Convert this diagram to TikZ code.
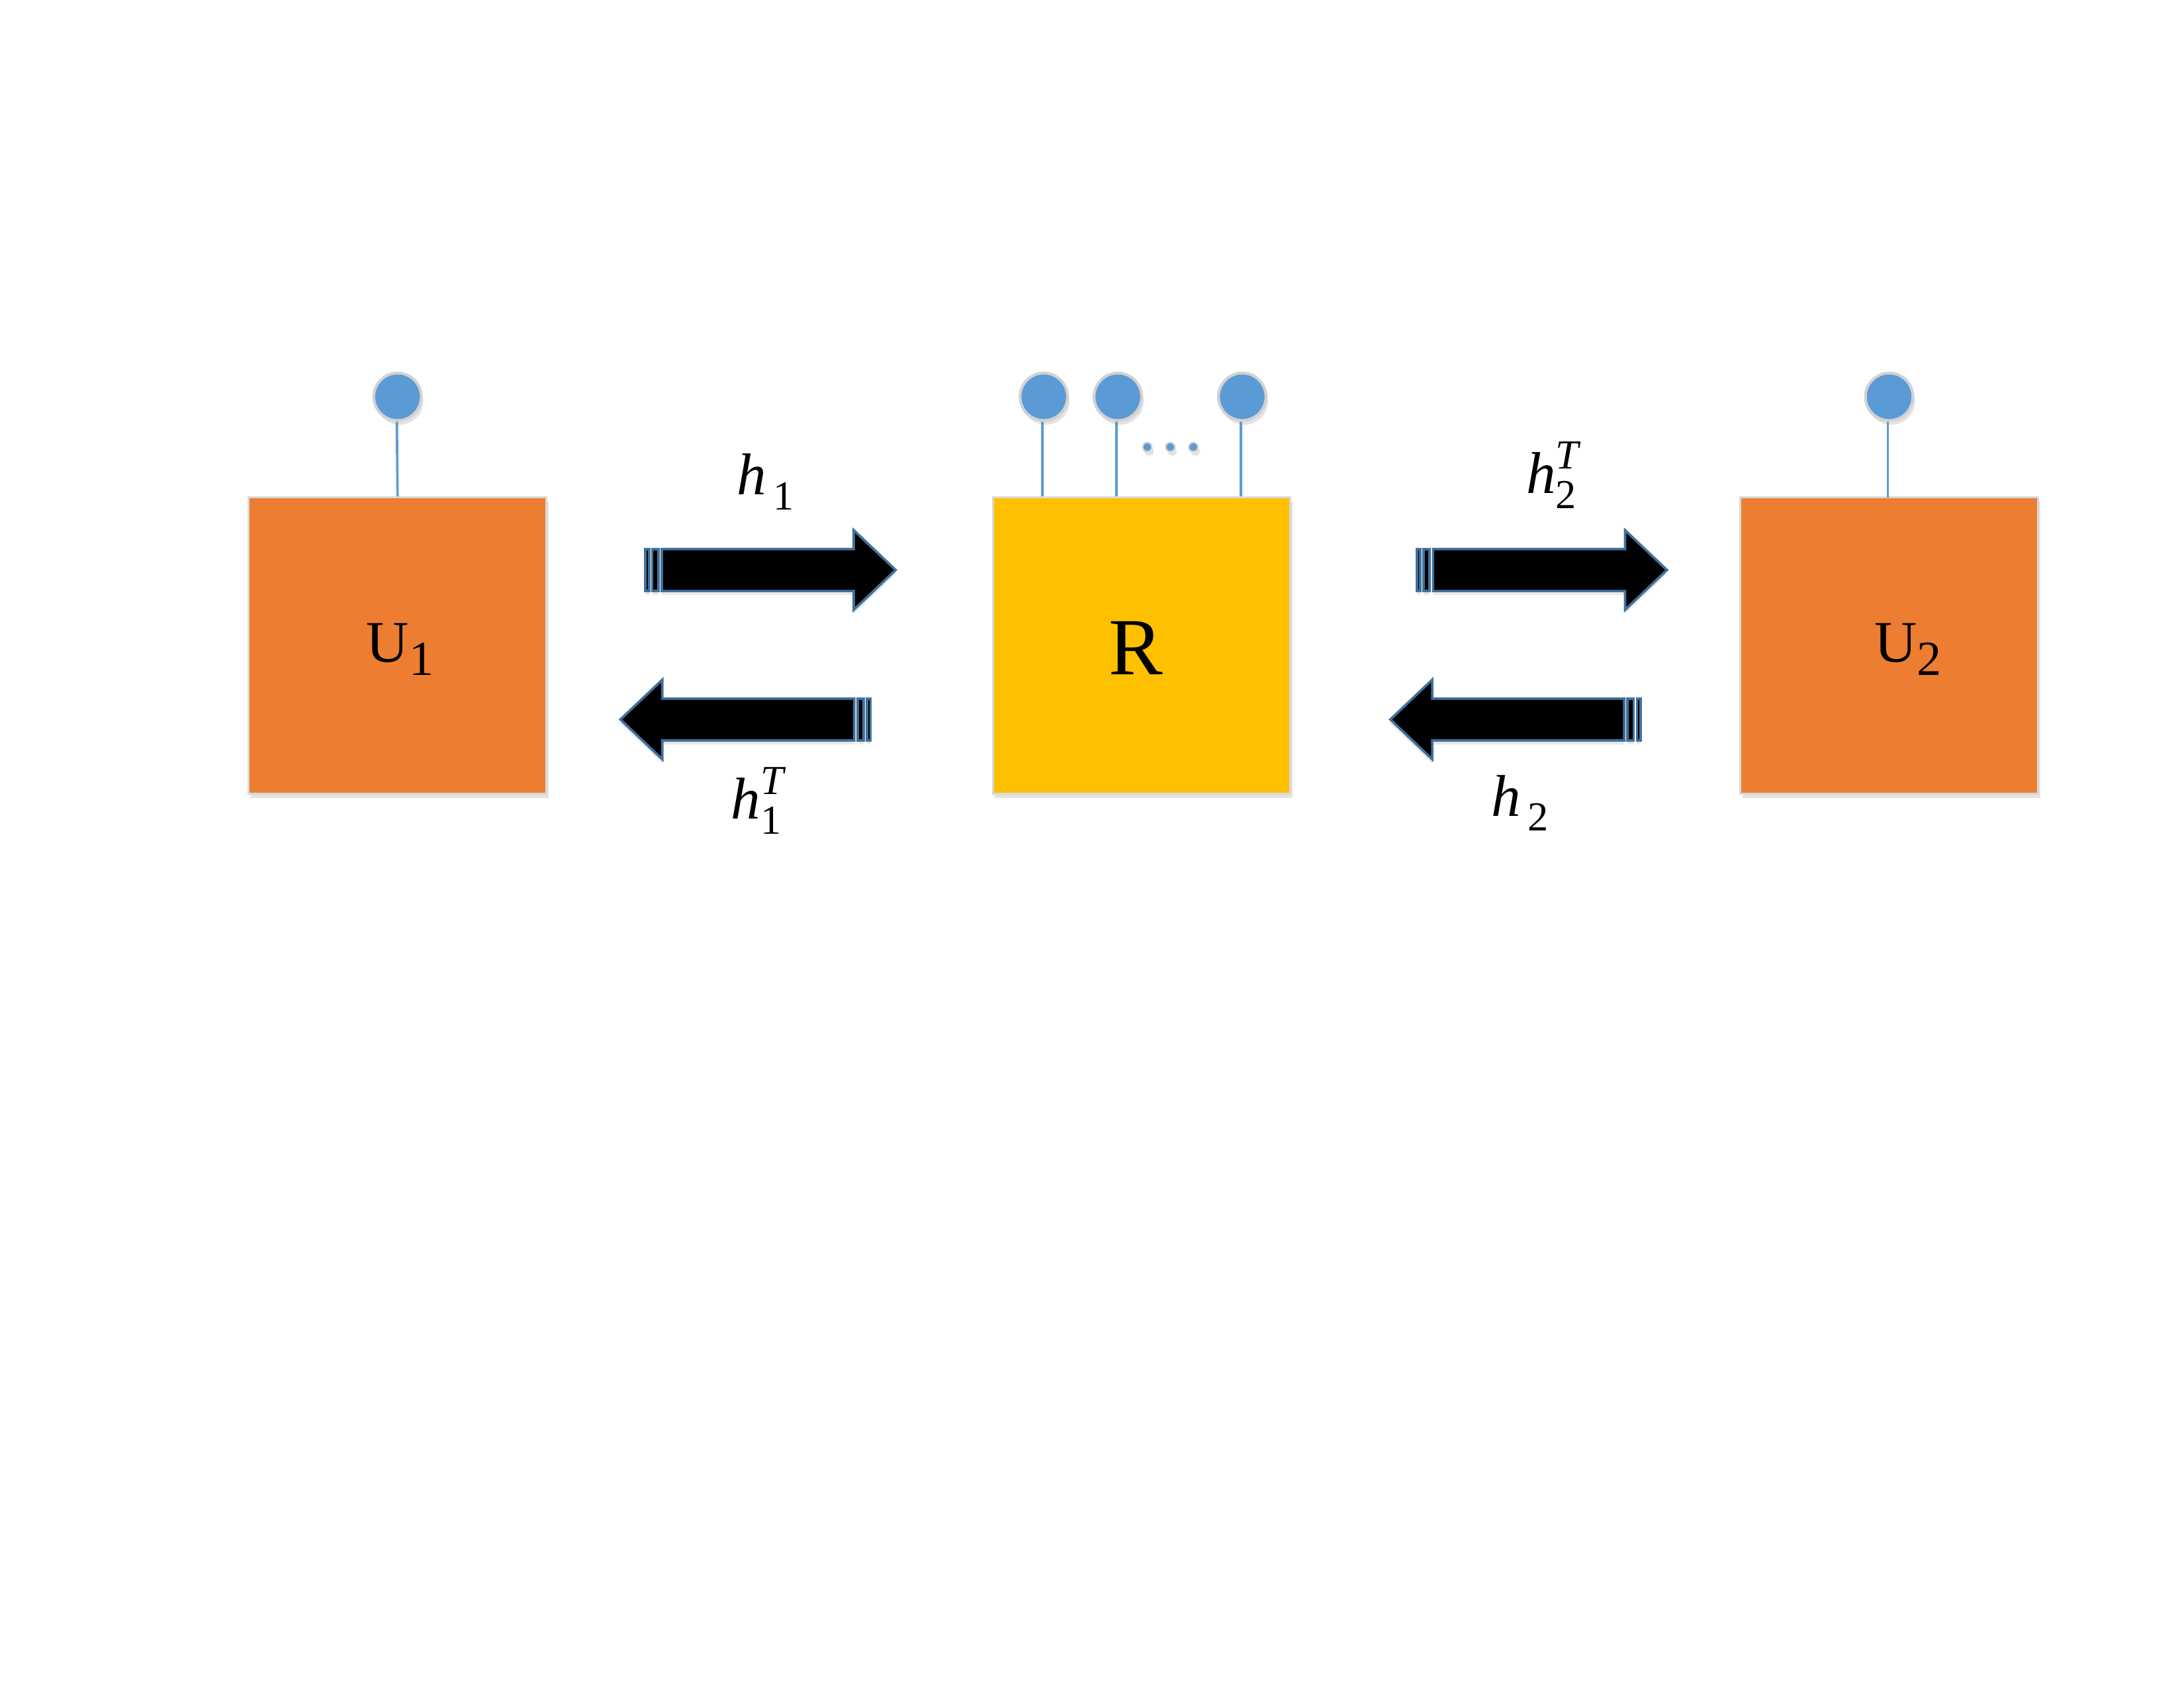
\documentclass[tikz,border=0pt]{standalone}
\usepackage{amsmath}
\usepackage{fontspec}
\setmainfont{Liberation Serif}
\usepackage{tikz}
\usetikzlibrary{shadows}

\definecolor{userorange}{RGB}{237,125,49}
\definecolor{relayyellow}{RGB}{255,192,0}
\definecolor{antblue}{RGB}{91,155,213}
\definecolor{arrowrim}{RGB}{65,113,156}

\tikzset{
  softshadow/.style={drop shadow={shadow xshift=.3mm, shadow yshift=-.6mm, opacity=.22}},
  box/.style={draw=gray!30, line width=.3mm, minimum width=42.6mm, minimum height=42.4mm,
    inner sep=0pt, softshadow},
  ant/.style={circle, draw=gray!35, line width=.4mm, fill=antblue, minimum size=6.8mm,
    inner sep=0pt, softshadow},
  tinydot/.style={circle, draw=gray!35, line width=.2mm, fill=antblue, minimum size=1.3mm,
    inner sep=0pt, softshadow},
  feed/.style={draw=antblue, line width=.35mm},
  rim/.style={draw=arrowrim, fill=black, line width=.35mm, line join=miter,
    drop shadow={shadow xshift=0mm, shadow yshift=-.6mm, opacity=.18}},
  boxlab/.style={anchor=base west, inner sep=0pt, font=\fontsize{24}{28}\selectfont},
  chanlab/.style={anchor=base west, inner sep=0pt, font=\fontsize{24}{28}\selectfont},
}

\newcommand{\lowidx}[1]{\raisebox{-5.4pt}{\fontsize{20}{24}\selectfont #1}}
% block arrow with two stripes at the tail, tail at the origin
\newcommand{\stripedarrow}[1]{%
  \begin{scope}[#1]
    \draw[rim] (0.9,-15) rectangle (3.5,15);
    \draw[rim] (5.8,-15) rectangle (10.2,15);
    \draw[rim] (12.6,-15) -- (150,-15) -- (150,-28.5) -- (180,0) -- (150,28.5)
      -- (150,15) -- (12.6,15) -- cycle;
  \end{scope}}

\begin{document}
\begin{tikzpicture}[x=0.2mm,y=-0.2mm]
\useasboundingbox (0,0) rectangle (1563,1208);

% terminals and relay
\node[box, fill=userorange] (u1) at (284.5,462) {};
\node[box, fill=relayyellow] (relay) at (817,462) {};
\node[box, fill=userorange] (u2) at (1352,462) {};

\node[boxlab] (u1lab) at (262,474) {U\lowidx{1}};
\node[boxlab, font=\fontsize{33}{38}\selectfont] (rlab) at (793,483) {R};
\node[boxlab] (u2lab) at (1341,474) {U\lowidx{2}};

% antennas
\draw[feed] (284,300) -- (u1.north);
\draw[feed] (1351,300) -- (1351,356);
\foreach \x in {746,799,888}
  \draw[feed] (\x,300) coordinate (top\x) -- (top\x |- relay.north);
\node[ant] (a1) at (284.5,284) {};
\node[ant] (a2) at (1352,284) {};
\node[ant] (ra1) at (747,284) {};
\node[ant] (ra2) at (800,284) {};
\node[ant] (ra3) at (889,284) {};
\foreach \x in {821,837.5,854}
  \node[tinydot] at (\x,320) {};

% channels
\stripedarrow{shift={(461,408)}}
\stripedarrow{shift={(624,515)},xscale=-1}
\stripedarrow{shift={(1013,408)}}
\stripedarrow{shift={(1175,515)},xscale=-1}

\node[chanlab] (lh1) at (527,354) {$\textit{h}^{}_{\,\text{1}}$};
\node[chanlab] (lh1t) at (523,586) {$\textit{h}^{\textit{T}}_{\text{1}}$};
\node[chanlab] (lh2t) at (1092,353) {$\textit{h}^{\textit{T}}_{\text{2}}$};
\node[chanlab] (lh2) at (1067,584) {$\textit{h}^{}_{\,\text{2}}$};
\end{tikzpicture}
\end{document}
